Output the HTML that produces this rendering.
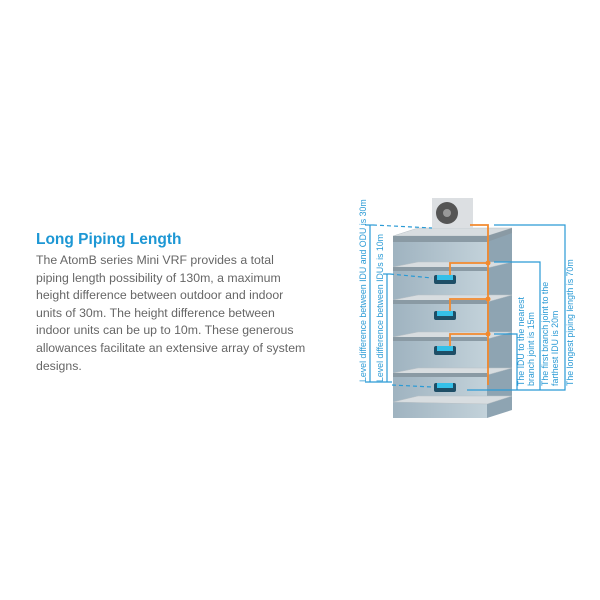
<!DOCTYPE html><html><head><style>
body{margin:0;width:600px;height:600px;background:#fff;overflow:hidden;position:relative;font-family:"Liberation Sans",sans-serif}
h1{position:absolute;left:36px;top:231px;margin:0;font-size:15.5px;color:#1d97d4;font-weight:bold}
p{position:absolute;left:36px;top:252px;margin:0;width:320px;font-size:12.3px;line-height:17.6px;color:#666}
</style></head><body>
<h1>Long Piping Length</h1>
<p>The AtomB series Mini VRF provides a total<br>piping length possibility of 130m, a maximum<br>height difference between outdoor and indoor<br>units of 30m. The height difference between<br>indoor units can be up to 10m. These generous<br>allowances facilitate an extensive array of system<br>designs.</p>
<svg width="600" height="600" style="position:absolute;left:0;top:0">
<defs><linearGradient id="g" x1="0" x2="1"><stop offset="0" stop-color="#9fb3c0"/><stop offset="1" stop-color="#c3d2da"/></linearGradient></defs>
<rect x="393" y="236" width="94" height="182" fill="url(#g)"/>
<polygon points="487,236 512,228 512,410 487,418" fill="#8ea4b2"/>
<g fill="#d8dde0" stroke="#b8c0c5" stroke-width="0.5">
<polygon points="393,236 418,228 512,228 487,236"/>
<polygon points="393,267 418,262 512,262 487,268"/>
<polygon points="393,300 418,295 512,295 487,302"/>
<polygon points="393,337 418,332 512,332 487,339"/>
<polygon points="393,373 418,368 512,368 487,375"/>
<polygon points="393,402 418,396 512,396 487,404"/>
</g>
<g fill="#8a9aa4"><rect x="393" y="236" width="94" height="6"/><rect x="393" y="267" width="94" height="4"/><rect x="393" y="300" width="94" height="4"/><rect x="393" y="337" width="94" height="4"/><rect x="393" y="373" width="94" height="4"/><polygon points="487,236 512,228 512,233 487,242"/></g>
<rect x="432" y="198" width="41" height="30" fill="#dcdfe2"/><circle cx="447" cy="213" r="11" fill="#555"/><circle cx="447" cy="213" r="4" fill="#999"/>
<g fill="#1e4e66"><rect x="434" y="275" width="22" height="9" rx="2"/><rect x="434" y="311" width="22" height="9" rx="2"/><rect x="434" y="346" width="22" height="9" rx="2"/><rect x="434" y="383" width="22" height="9" rx="2"/></g>
<g fill="#35c0e8"><rect x="437" y="275" width="16" height="5"/><rect x="437" y="311" width="16" height="5"/><rect x="437" y="346" width="16" height="5"/><rect x="437" y="383" width="16" height="5"/></g>
<g stroke="#f28a2e" stroke-width="1.8" fill="none">
<polyline points="470,225 488,225 488,385"/>
<polyline points="450,275 450,263 488,263"/>
<polyline points="450,311 450,299 488,299"/>
<polyline points="450,346 450,334 488,334"/>
</g>
<g fill="#f28a2e"><circle cx="488" cy="263" r="2.5"/><circle cx="488" cy="299" r="2.5"/><circle cx="488" cy="334" r="2.5"/></g>
<g stroke="#2a9ad5" stroke-width="1.2" fill="none">
<polyline points="494,225 565,225 565,390 467,390"/>
<polyline points="494,262 540,262 540,390"/>
<polyline points="494,334 517,334 517,390"/>
<line x1="370" y1="225" x2="370" y2="382"/><line x1="387" y1="274" x2="387" y2="382"/>
<line x1="365" y1="382" x2="392" y2="382"/>
<line x1="365" y1="225" x2="373" y2="225"/><line x1="383" y1="274" x2="390" y2="274"/>
<g stroke-dasharray="4,3"><line x1="373" y1="225" x2="432" y2="228"/><line x1="390" y1="274" x2="432" y2="278"/><line x1="392" y1="385" x2="432" y2="387"/></g>
</g>
<g font-size="8.8" fill="#2a9ad5" font-family="Liberation Sans,sans-serif">
<text transform="translate(366,382) rotate(-90)">Level difference between IDU and ODU is 30m</text>
<text transform="translate(383,382) rotate(-90)">Level difference between IDUs is 10m</text>
<text transform="translate(524,386) rotate(-90)">The IDU to the nearest</text>
<text transform="translate(534,386) rotate(-90)">branch joint is 15m</text>
<text transform="translate(548,386) rotate(-90)">The first branch joint to the</text>
<text transform="translate(558,386) rotate(-90)">farthest IDU is 20m</text>
<text transform="translate(573,386) rotate(-90)">The longest piping length is 70m</text>
</g>
</svg>
</body></html>
